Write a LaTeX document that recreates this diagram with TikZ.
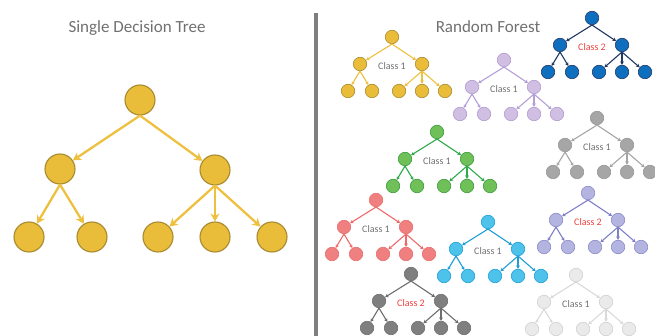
\documentclass[tikz,border=0pt]{standalone}
\usepackage{fontspec}
\setmainfont{Carlito}
\usetikzlibrary{arrows.meta}

\definecolor{gold}{RGB}{233,188,58}
\definecolor{golddark}{RGB}{168,139,46}
\definecolor{goldline}{RGB}{238,192,63}
\definecolor{lilac}{RGB}{208,191,227}
\definecolor{lilacdark}{RGB}{176,154,206}
\definecolor{lilacline}{RGB}{180,159,214}
\definecolor{navyfill}{RGB}{14,111,190}
\definecolor{navy}{RGB}{32,56,100}
\definecolor{leaf}{RGB}{112,192,90}
\definecolor{leafdark}{RGB}{58,154,58}
\definecolor{leafline}{RGB}{46,170,74}
\definecolor{midgray}{RGB}{166,166,166}
\definecolor{midgraydark}{RGB}{150,150,150}
\definecolor{salmon}{RGB}{240,128,128}
\definecolor{salmondark}{RGB}{232,110,110}
\definecolor{salmonline}{RGB}{240,106,106}
\definecolor{sky}{RGB}{77,195,236}
\definecolor{skydark}{RGB}{30,158,214}
\definecolor{peri}{RGB}{180,180,224}
\definecolor{peridark}{RGB}{138,138,202}
\definecolor{periline}{RGB}{128,128,200}
\definecolor{darkgray}{RGB}{127,127,127}
\definecolor{darkgrayline}{RGB}{110,110,110}
\definecolor{pale}{RGB}{234,234,234}
\definecolor{paledark}{RGB}{208,208,208}
\definecolor{paleline}{RGB}{217,217,217}
\definecolor{txtgray}{RGB}{112,112,112}
\definecolor{bargray}{RGB}{127,127,127}
\definecolor{classred}{RGB}{240,64,60}

\tikzset{
  pics/minitree/.style n args={5}{code={
    \begin{scope}[tnode/.style={circle,inner sep=0pt,minimum size=13.5pt,fill=#1,draw=#2,line width=0.6pt},
                  tedge/.style={draw=#3,line width=1.1pt,-{Stealth[length=3.6pt,width=3.8pt]}}]
    \node[tnode] (-r) at (0,0) {};
    \node[tnode] (-a) at (-32,27) {};
    \node[tnode] (-b) at (30,27) {};
    \node[tnode] (-a1) at (-44,54) {};
    \node[tnode] (-a2) at (-20,54) {};
    \node[tnode] (-b1) at (7,54) {};
    \node[tnode] (-b2) at (30,54) {};
    \node[tnode] (-b3) at (53,54) {};
    \draw[tedge] (-r.south) -- (-a);
    \draw[tedge] (-r.south) -- (-b);
    \draw[tedge] (-a.south) -- (-a1);
    \draw[tedge] (-a.south) -- (-a2);
    \draw[tedge] (-b.south) -- (-b1);
    \draw[tedge] (-b.south) -- (-b2);
    \draw[tedge] (-b.south) -- (-b3);
    \node[font=\fontsize{10}{11}\selectfont,text=#5] (-c) at (0,29) {#4};
    \end{scope}
  }}
}

\begin{document}
\begin{tikzpicture}[x=1pt,y=-1pt,
  bignode/.style={circle,inner sep=0pt,minimum size=30pt,fill=gold,draw=golddark,line width=1.1pt},
  bigedge/.style={draw=goldline,line width=2.3pt,-{Stealth[length=8pt,width=9pt]}},
  heading/.style={font=\fontsize{17}{20}\selectfont,text=txtgray}]
\useasboundingbox (0,0) rectangle (655,336);

\node[heading] (lefttitle) at (137,28) {Single Decision Tree};
\node[heading] (righttitle) at (488,27) {Random Forest};

\fill[bargray] (313.5,13) rectangle (317.5,336);

% the single tree
\node[bignode] (root) at (140,100) {};
\node[bignode] (l) at (60,169) {};
\node[bignode] (r) at (215,170) {};
\node[bignode] (l1) at (29,237) {};
\node[bignode] (l2) at (92,237) {};
\node[bignode] (r1) at (158,237) {};
\node[bignode] (r2) at (215,237) {};
\node[bignode] (r3) at (272,237) {};

\draw[bigedge] (root.south) -- (l);
\draw[bigedge] (root.south) -- (r);
\draw[bigedge] (l.south) -- (l1);
\draw[bigedge] (l.south) -- (l2);
\draw[bigedge] (r.south) -- (r1);
\draw[bigedge] (r.south) -- (r2);
\draw[bigedge] (r.south) -- (r3);

% the forest
\pic (t1) at (392,37) {minitree={gold}{golddark}{goldline}{Class 1}{txtgray}};
\pic (t2) at (504,60) {minitree={lilac}{lilacdark}{lilacline}{Class 1}{txtgray}};
\pic (t3) at (592,18) {minitree={navyfill}{navy}{navy}{Class 2}{classred}};
\pic (t4) at (437,132) {minitree={leaf}{leafdark}{leafline}{Class 1}{txtgray}};
\pic (t5) at (597,118) {minitree={midgray}{midgraydark}{midgray}{Class 1}{txtgray}};
\pic (t6) at (376,200) {minitree={salmon}{salmondark}{salmonline}{Class 1}{txtgray}};
\pic (t7) at (488,222) {minitree={sky}{skydark}{skydark}{Class 1}{txtgray}};
\pic (t8) at (588,193) {minitree={peri}{peridark}{periline}{Class 2}{classred}};
\pic (t9) at (411,274) {minitree={darkgray}{darkgrayline}{darkgrayline}{Class 2}{classred}};
\pic (t10) at (576,275) {minitree={pale}{paledark}{paleline}{Class 1}{txtgray}};
\end{tikzpicture}
\end{document}
